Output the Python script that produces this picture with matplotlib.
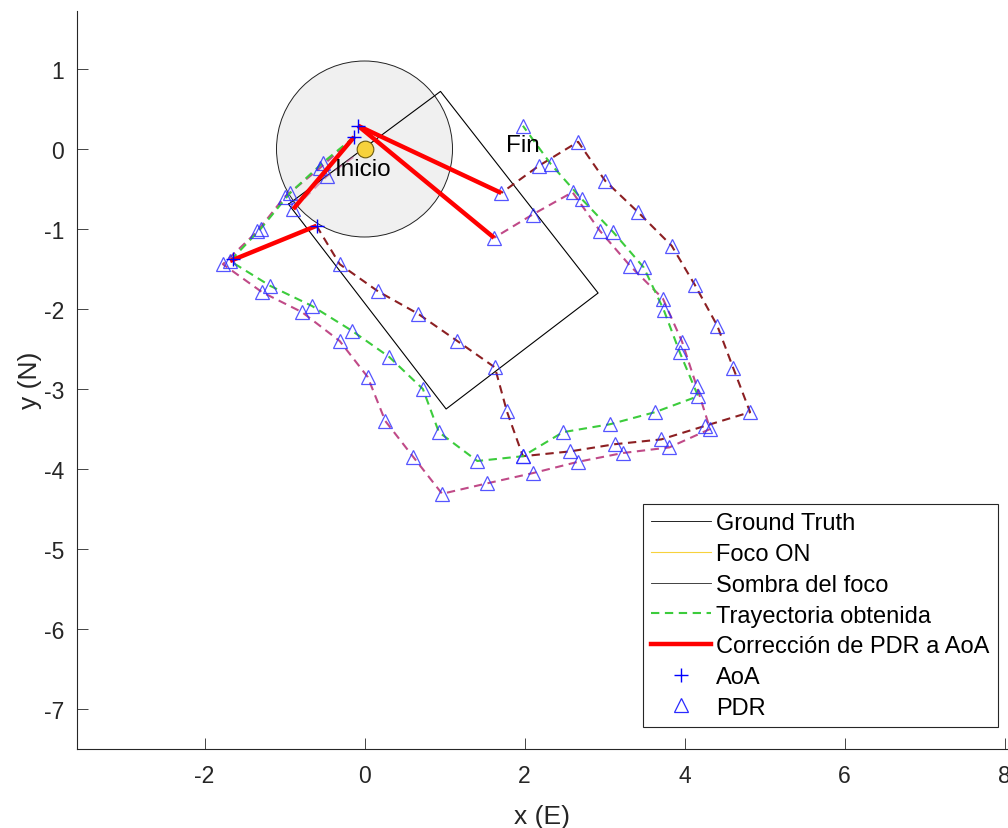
import matplotlib
matplotlib.use('Agg')
import matplotlib.pyplot as plt
from matplotlib.lines import Line2D
from matplotlib.patches import Circle

plt.rcParams['font.family'] = ['Liberation Sans', 'DejaVu Sans']
plt.rcParams['lines.scale_dashes'] = False
plt.rcParams['axes.unicode_minus'] = False

# ground truth rectangle (closed)
gt_x = [-0.95, 0.95, 2.92, 1.02, -0.95]
gt_y = [-0.69, 0.72, -1.80, -3.25, -0.69]

# trajectory obtained after corrections
tray_x = [-0.13, -0.52, -0.93, -1.30, -1.68, -1.18, -0.66, -0.16, 0.31, 0.73, 0.93, 1.41,
          1.98, 2.48, 3.07, 3.63, 4.17, 3.94, 3.74, 3.49, 3.11, 2.72, 2.33, 1.98]
tray_y = [0.15, -0.17, -0.55, -1.00, -1.40, -1.71, -1.96, -2.27, -2.60, -3.00, -3.54, -3.90,
          -3.84, -3.54, -3.44, -3.29, -3.09, -2.54, -2.01, -1.48, -1.04, -0.63, -0.19, 0.29]

# first PDR steps from the start point
pdr0_x = [0.0, -0.47, -0.89]
pdr0_y = [0.0, -0.34, -0.75]

# PDR run 1
pdr1_x = [-0.13, -0.56, -1.00, -1.34, -1.77, -1.28, -0.78, -0.31, 0.04, 0.26, 0.61, 0.97,
          1.53, 2.11, 2.67, 3.23, 3.81, 4.32, 4.15, 3.97, 3.73, 3.32, 2.94, 2.60, 2.10, 1.62]
pdr1_y = [0.15, -0.24, -0.60, -1.03, -1.44, -1.79, -2.04, -2.40, -2.85, -3.40, -3.85, -4.31,
          -4.18, -4.05, -3.91, -3.80, -3.73, -3.50, -2.96, -2.41, -1.87, -1.46, -1.02, -0.54, -0.82, -1.11]

# PDR run 2
pdr2_x = [-0.60, -0.31, 0.17, 0.67, 1.16, 1.63, 1.78, 1.98, 2.57, 3.13, 3.71, 4.26, 4.82,
          4.61, 4.41, 4.13, 3.84, 3.42, 3.01, 2.67, 2.18, 1.71]
pdr2_y = [-0.96, -1.44, -1.78, -2.06, -2.40, -2.73, -3.28, -3.84, -3.78, -3.69, -3.63, -3.46, -3.29,
          -2.74, -2.21, -1.70, -1.21, -0.79, -0.40, 0.09, -0.21, -0.55]

# AoA fixes
aoa_x = [-0.08, -0.13, -0.60, -1.65]
aoa_y = [0.29, 0.15, -0.96, -1.38]

# corrections PDR -> AoA (start, end)
corr_x = [(1.71, -0.08), (1.62, -0.08), (-0.89, -0.13), (-1.68, -0.60)]
corr_y = [(-0.55, 0.29), (-1.11, 0.29), (-0.75, 0.15), (-1.40, -0.96)]

foco_x, foco_y, foco_r = 0.0, 0.0, 1.1

green = '#3ccc3c'
pink = '#c04a88'
maroon = '#8c1f22'
blue = '#2a2aff'
yellow = '#f7d23c'
dk = '#262626'

fig = plt.figure(figsize=(10.08, 8.29), dpi=100)
ax = fig.add_axes([76.5 / 1008, 79 / 829, 932 / 1008, 738.4 / 829])

ax.add_patch(Circle((foco_x, foco_y), foco_r, facecolor='#f0f0f0', edgecolor='#222222',
                    linewidth=0.7, zorder=1))
ax.plot(gt_x, gt_y, color='black', linewidth=0.8, zorder=2)

dash = dict(linestyle=(0, (6, 4)), linewidth=1.5)
ax.plot(pdr0_x, pdr0_y, color=pink, alpha=0.5, zorder=3, **dash)
ax.plot(pdr2_x, pdr2_y, color=maroon, zorder=3, **dash)
ax.plot(pdr1_x, pdr1_y, color=pink, zorder=3, **dash)
ax.plot(tray_x, tray_y, color=green, zorder=4, **dash)

tri = dict(linestyle='none', marker='^', markersize=10, markerfacecolor='none',
           markeredgecolor=blue, markeredgewidth=0.9, alpha=0.8, zorder=5)
ax.plot(pdr0_x[1:], pdr0_y[1:], **tri)
ax.plot(pdr1_x[1:], pdr1_y[1:], **tri)
ax.plot(pdr2_x[1:], pdr2_y[1:], **tri)
ax.plot(tray_x[1:], tray_y[1:], **tri)

for cx, cy in zip(corr_x, corr_y):
    ax.plot(cx, cy, color='red', linewidth=3.2, solid_capstyle='butt', zorder=6)

ax.plot(aoa_x, aoa_y, linestyle='none', marker='+', markersize=10, color='blue',
        markeredgewidth=1.0, zorder=7)

ax.plot(foco_x, foco_y, linestyle='none', marker='o', markersize=12,
        markerfacecolor=yellow, markeredgecolor='#6b5a10', markeredgewidth=0.8, zorder=8)

ax.text(-0.37, -0.25, 'Inicio', fontsize=17.5, va='center', ha='left', zorder=9)
ax.text(1.77, 0.05, 'Fin', fontsize=17.5, va='center', ha='left', zorder=9)

ax.set_xlim(-3.6, 8.05)
ax.set_ylim(-7.5, 1.73)
ax.set_xticks([-2, 0, 2, 4, 6, 8])
ax.set_yticks(range(-7, 2))
ax.tick_params(direction='in', length=8, width=0.6, labelsize=16.5, colors=dk, pad=9)
ax.tick_params(axis='x', pad=11)
for s in ['top', 'right']:
    ax.spines[s].set_visible(False)
for s in ['left', 'bottom']:
    ax.spines[s].set_color(dk)
    ax.spines[s].set_linewidth(0.8)
ax.set_xlabel('x (E)', fontsize=19, color=dk, labelpad=12)
ax.set_ylabel('y (N)', fontsize=19, color=dk, labelpad=1)

handles = [
    Line2D([], [], color='black', linewidth=0.6),
    Line2D([], [], color=yellow, linewidth=0.8),
    Line2D([], [], color='#222222', linewidth=0.6),
    Line2D([], [], color=green, linestyle=(0, (6, 4)), linewidth=1.5),
    Line2D([], [], color='red', linewidth=3.2),
    Line2D([], [], color='blue', linestyle='none', marker='+', markersize=10),
    Line2D([], [], color=blue, linestyle='none', marker='^', markersize=10,
           markerfacecolor='none', markeredgewidth=0.9),
]
labels = ['Ground Truth', 'Foco ON', 'Sombra del foco', 'Trayectoria obtenida',
          'Corrección de PDR a AoA', 'AoA', 'PDR']
leg = ax.legend(handles, labels, loc='lower right', bbox_to_anchor=(0.9888, 0.0298),
                borderaxespad=0, fontsize=17, frameon=True, fancybox=False,
                framealpha=1, edgecolor=dk, handlelength=2.5, handletextpad=0.25,
                labelspacing=0.37, borderpad=0.35)
leg.get_frame().set_linewidth(0.8)

fig.savefig('out.png', dpi=100)
